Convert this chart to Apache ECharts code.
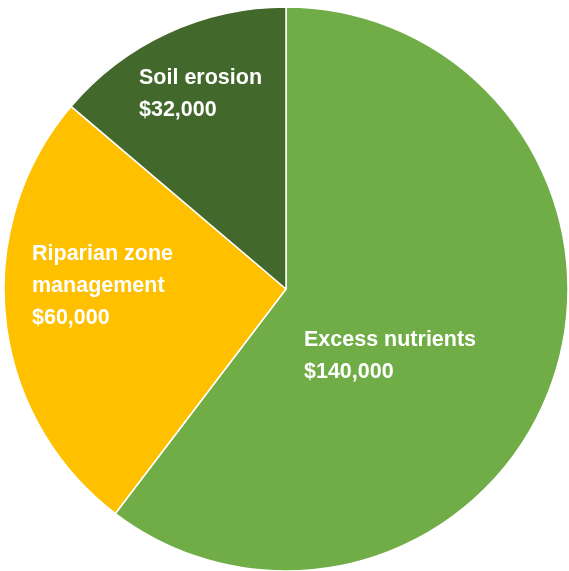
<!DOCTYPE html>
<html><head><meta charset="utf-8">
<script src="https://cdn.jsdelivr.net/npm/echarts@6/dist/echarts.min.js"></script>
<style>html,body{margin:0;padding:0;background:#fff}#c{width:569px;height:571px}</style>
</head><body><div id="c"></div>
<script>
const categories = ["Excess nutrients", "Riparian zone management", "Soil erosion"];
const labelLines = ["Excess nutrients", "Riparian zone\nmanagement", "Soil erosion"];
const values = [140000, 60000, 32000];
const colors = ["#70AD47", "#FFC000", "#43682B"];
const labelPos = [[304, 324], [32, 238], [139, 62]];

const fmt = v => "$" + v.toLocaleString("en-US");
const chart = echarts.init(document.getElementById("c"));
chart.setOption({
  animation: false,
  series: [{
    type: "pie",
    center: [286, 289],
    radius: 282,
    startAngle: 90,
    clockwise: true,
    itemStyle: { borderColor: "#fff", borderWidth: 1.5 },
    label: {
      show: true,
      position: "inside",
      color: "#fff",
      fontFamily: "Liberation Sans",
      fontWeight: "bold",
      fontSize: 21.5,
      lineHeight: 32,
      align: "left",
      verticalAlign: "top",
      formatter: p => labelLines[p.dataIndex] + "\n" + fmt(p.value)
    },
    labelLine: { show: false },
    labelLayout: p => ({ x: labelPos[p.dataIndex][0], y: labelPos[p.dataIndex][1], align: "left", verticalAlign: "top" }),
    data: categories.map((n, i) => ({ name: n, value: values[i], itemStyle: { color: colors[i] } }))
  }]
});
</script></body></html>
